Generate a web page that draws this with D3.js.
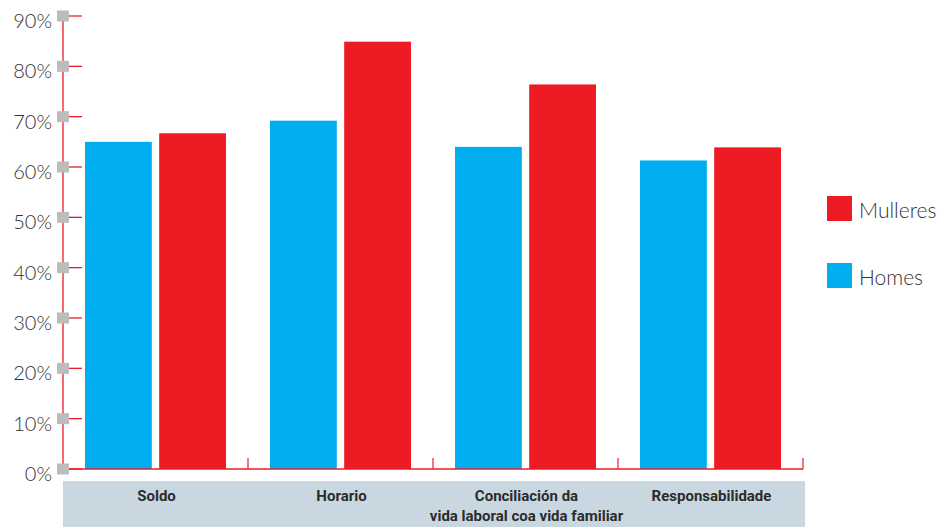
<!DOCTYPE html>
<html><head><meta charset="utf-8">
<script src="https://cdn.jsdelivr.net/npm/d3@7"></script>
<style>body{margin:0;background:#fff}svg{display:block}</style>
</head><body><svg id="c" width="942" height="527"></svg>
<script>
const categories = [["Soldo"], ["Horario"], ["Conciliación da", "vida laboral coa vida familiar"], ["Responsabilidade"]];
const homes = [65, 69.2, 64, 61.3];
const mulleres = [66.7, 84.9, 76.4, 63.9];
const series = [{name: "Homes", values: homes, color: "#00aeef"}, {name: "Mulleres", values: mulleres, color: "#ed1c24"}];
const yTicks = [0, 10, 20, 30, 40, 50, 60, 70, 80, 90];
const legendOrder = ["Mulleres", "Homes"];

const svg = d3.select("#c");
const x0 = d3.scaleBand().domain(d3.range(categories.length)).range([63, 803]).paddingInner(0).paddingOuter(0);
const x1 = d3.scaleBand().domain(series.map(s => s.name)).range([22, 185 - 22]).paddingInner(7 / 141 * 2).paddingOuter(0);
const y = d3.scaleLinear().domain([0, 90]).range([469, 16]);

// category band
svg.append("rect").attr("x", 63).attr("y", 481).attr("width", 742).attr("height", 46).attr("fill", "#c9d8e0");

// bars
series.forEach(s => {
  svg.append("g").selectAll("rect").data(s.values).join("rect")
    .attr("x", (d, i) => x0(i) + x1(s.name))
    .attr("width", x1.bandwidth())
    .attr("y", d => y(d))
    .attr("height", d => y(0) - y(d))
    .attr("fill", s.color);
});

// x baseline + ticks
svg.append("line").attr("x1", 63).attr("x2", 803).attr("y1", y(0)).attr("y2", y(0)).attr("stroke", "#ed1c24").attr("stroke-width", 1.3);
svg.append("g").selectAll("line").data(d3.range(1, categories.length + 1)).join("line")
  .attr("x1", i => i < categories.length ? x0(i) : x0(i - 1) + x0.bandwidth())
  .attr("x2", i => i < categories.length ? x0(i) : x0(i - 1) + x0.bandwidth())
  .attr("y1", y(0)).attr("y2", y(0) - 11).attr("stroke", "#ed1c24").attr("stroke-width", 1.2);

// y axis
svg.append("line").attr("x1", 63).attr("x2", 63).attr("y1", y(90)).attr("y2", y(0)).attr("stroke", "#ed1c24").attr("stroke-width", 1.3);
const yt = svg.append("g").selectAll("g").data(yTicks).join("g").attr("transform", d => `translate(0,${y(d)})`);
yt.append("line").attr("x1", 63).attr("x2", 82).attr("stroke", "#ed1c24").attr("stroke-width", 1.3);
yt.append("rect").attr("x", 57).attr("y", -5.5).attr("width", 12).attr("height", 11).attr("fill", "#bcbcbc");
yt.append("text").attr("x", 52).attr("y", 12).attr("text-anchor", "end")
  .attr("font-family", "Lato, 'Open Sans', sans-serif").attr("font-weight", 300).attr("font-size", 20).attr("fill", "#333")
  .text(d => d + "%");

// category labels
const cl = svg.append("g").selectAll("text").data(categories).join("text")
  .attr("x", (d, i) => x0(i) + x0.bandwidth() / 2 + 1)
  .attr("y", 501)
  .attr("text-anchor", "middle")
  .attr("font-family", "'Liberation Sans Narrow', 'Roboto', sans-serif").attr("font-weight", "bold").attr("font-size", 15).attr("fill", "#2b2b2b");
cl.selectAll("tspan").data(d => d).join("tspan")
  .attr("x", function() { return d3.select(this.parentNode).attr("x"); })
  .attr("dy", (d, i) => i === 0 ? 0 : 20)
  .text(d => d);

// legend
const lg = svg.append("g").selectAll("g").data(legendOrder).join("g")
  .attr("transform", (d, i) => `translate(827,${196 + i * 67})`);
lg.append("rect").attr("width", 25).attr("height", 25).attr("fill", d => series.find(s => s.name === d).color);
lg.append("text").attr("x", 32).attr("y", 22)
  .attr("font-family", "Lato, 'Open Sans', sans-serif").attr("font-weight", 300).attr("font-size", 21).attr("fill", "#333")
  .text(d => d);
</script></body></html>
